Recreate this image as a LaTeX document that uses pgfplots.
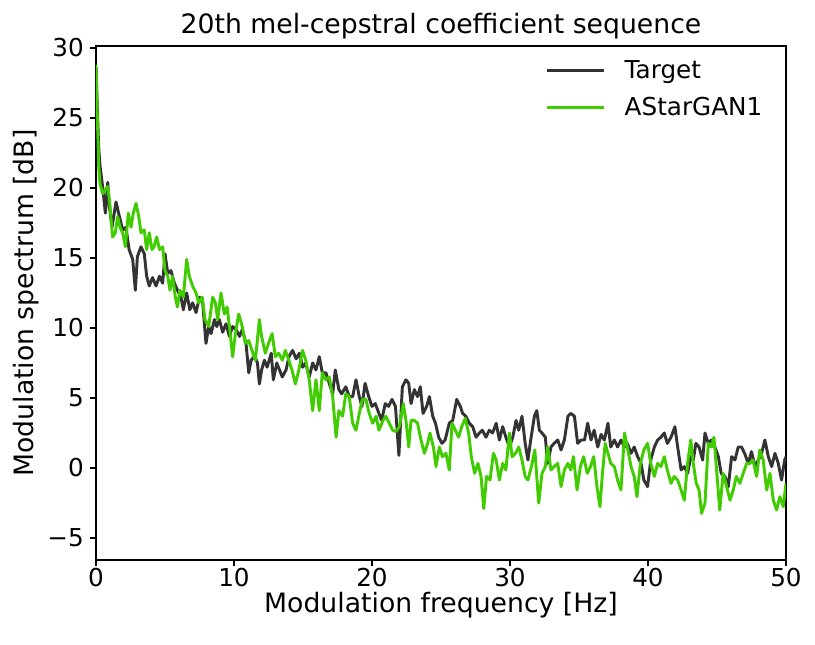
\documentclass[border=0pt]{standalone}
\usepackage{pgfplots}
\pgfplotsset{compat=1.18}
\usepackage{pgfplotstable}
\usepackage{fontspec}
\setmainfont{DejaVu Sans}
\definecolor{tgt}{RGB}{51,51,51}
\definecolor{gan}{RGB}{64,204,0}

\pgfplotstableread{
x y
0 28.6
0.1 25.5
0.2 22.8
0.3 21.5
0.48 20.1
0.68 18.2
0.85 20.4
0.97 18.7
1.16 17.2
1.45 19.0
1.7 17.95
1.93 17.0
2.17 17.2
2.4 15.6
2.66 14.9
2.85 12.7
3.0 15.1
3.26 15.8
3.5 15.3
3.67 13.7
3.86 13.0
4.1 13.6
4.35 13.0
4.6 13.7
4.83 13.2
5.0 15.3
5.2 13.9
5.43 14.1
5.68 13.2
5.9 12.7
6.16 12.2
6.33 11.3
6.57 12.5
6.8 11.3
7.0 11.8
7.25 11.1
7.5 12.2
7.73 11.8
7.97 8.9
8.17 10.1
8.34 9.6
8.58 10.6
8.75 10.1
8.94 10.6
9.18 9.7
9.42 10.3
9.67 9.4
9.9 10.1
10.15 9.9
10.4 9.4
10.6 9.9
10.87 8.9
11.07 6.8
11.24 7.7
11.5 8.0
11.7 7.5
11.84 6.0
12.0 7.0
12.2 7.7
12.4 7.2
12.7 8.2
12.85 6.3
13.1 7.5
13.3 7.0
13.5 6.5
13.77 7.0
14.0 8.0
14.25 8.4
14.5 7.8
14.74 8.2
14.97 7.2
15.2 7.5
15.45 6.5
15.7 7.5
15.94 7.0
16.18 7.95
16.4 6.8
16.66 6.8
16.9 6.05
17.15 5.3
17.34 7.0
17.6 5.6
17.8 5.3
18.1 5.8
18.35 5.1
18.6 5.1
18.84 6.3
19.08 5.1
19.27 4.4
19.5 6.05
19.76 5.1
20.0 4.4
20.24 4.6
20.5 3.9
20.7 3.4
20.96 4.6
21.2 4.4
21.45 4.9
21.7 4.4
21.95 0.9
22.2 5.8
22.46 6.3
22.66 6.05
22.83 4.6
23.07 5.6
23.3 5.1
23.5 5.8
23.7 3.9
23.96 4.4
24.16 5.1
24.4 3.7
24.6 3.2
24.83 2.2
25.07 1.76
25.3 2.0
25.6 3.2
25.85 3.4
26.14 4.9
26.4 4.4
26.57 3.9
26.8 3.7
27.05 3.2
27.3 2.95
27.54 2.2
27.78 2.5
28.0 2.7
28.26 2.2
28.5 2.7
28.74 2.5
29.0 3.2
29.23 2.0
29.47 2.95
29.7 2.2
29.96 1.5
30.2 2.2
30.44 3.4
30.63 2.7
30.87 3.7
31.1 1.76
31.3 0.57
31.5 2.0
31.77 3.7
31.94 4.1
32.13 2.7
32.32 2.5
32.56 2.2
32.73 0.33
32.97 1.5
33.2 1.76
33.46 2.0
33.7 1.29
33.94 2.0
34.2 3.7
34.4 3.9
34.67 3.7
34.9 1.76
35.15 2.0
35.4 2.0
35.63 3.2
35.87 2.0
36.1 2.7
36.36 1.5
36.6 2.4
36.84 2.0
37.1 3.2
37.3 1.5
37.56 2.0
37.8 1.5
38.04 2.0
38.3 1.5
38.5 1.76
38.77 1.05
39.0 1.5
39.25 0.81
39.5 0.33
39.7 -0.86
39.97 -1.33
40.2 0.57
40.46 1.5
40.7 2.0
40.94 2.2
41.18 2.5
41.4 1.76
41.67 2.2
41.95 2.95
42.15 1.5
42.4 -0.14
42.63 0.1
42.87 -0.38
43.1 0.81
43.28 0.57
43.47 1.76
43.7 1.5
43.96 0.57
44.13 2.5
44.37 1.76
44.6 2.0
44.85 1.5
45.1 0.81
45.3 -0.38
45.58 -0.6
45.82 -1.33
46.06 0.81
46.3 0.57
46.54 1.5
46.78 1.5
47.0 1.05
47.27 0.33
47.5 1.17
47.75 0.1
48.0 0.57
48.23 1.05
48.47 2.0
48.72 0.81
48.96 0.1
49.2 1.05
49.44 0.33
49.68 -0.86
49.9 0.57
50 0.8
}\target

\pgfplotstableread{
x y
0 28.8
0.1 25.0
0.2 21.5
0.29 20.3
0.48 19.6
0.68 19.9
0.85 20.1
1.0 18.9
1.2 16.5
1.4 16.8
1.57 17.95
1.74 17.2
1.93 16.8
2.13 15.8
2.34 18.2
2.54 17.2
2.7 18.2
2.9 18.9
3.1 17.95
3.26 16.8
3.5 17.0
3.67 15.6
3.86 16.8
4.06 15.6
4.2 15.8
4.4 16.5
4.6 15.6
4.83 15.8
5.0 14.1
5.2 13.7
5.36 12.7
5.55 13.7
5.75 12.2
5.9 11.5
6.08 12.7
6.33 12.2
6.57 14.9
6.76 13.7
7.0 13.0
7.25 12.5
7.44 11.8
7.7 12.2
7.9 10.6
8.17 10.1
8.45 12.2
8.65 11.8
8.82 10.6
9.06 12.5
9.3 11.0
9.5 11.5
9.67 10.1
9.9 7.95
10.1 9.6
10.34 11.0
10.6 10.1
10.82 8.9
11.07 9.1
11.3 8.4
11.55 7.7
11.84 10.6
12.0 9.4
12.27 8.2
12.5 8.9
12.76 9.6
13.0 7.95
13.24 8.2
13.5 7.7
13.72 8.4
13.97 7.7
14.2 7.0
14.45 6.0
14.7 7.0
14.97 8.4
15.2 7.7
15.45 6.3
15.7 4.1
15.94 6.3
16.18 4.1
16.4 6.8
16.66 6.3
16.9 6.5
17.15 5.1
17.4 2.2
17.6 4.1
17.87 3.7
18.1 5.3
18.35 5.1
18.6 3.2
18.84 2.7
19.08 3.9
19.3 4.9
19.56 4.9
19.8 3.9
20.05 3.2
20.3 3.7
20.5 2.7
20.8 3.4
21.0 3.7
21.25 3.2
21.5 2.7
21.74 2.6
21.98 2.95
22.27 4.6
22.46 3.4
22.66 1.5
22.83 3.4
23.07 3.4
23.3 3.2
23.55 2.0
23.8 1.05
24.03 1.76
24.2 2.5
24.45 1.5
24.64 0.1
24.88 1.5
25.1 0.81
25.36 1.05
25.6 -0.14
25.8 3.2
26.04 2.7
26.28 2.2
26.5 2.95
26.76 3.55
27.0 2.5
27.2 0.8
27.44 -0.38
27.68 0.33
27.9 -0.6
28.1 -2.9
28.3 -0.6
28.55 -0.86
28.8 1.05
29.0 0.57
29.23 -0.86
29.47 0.33
29.7 -0.14
29.96 2.5
30.15 0.81
30.4 1.05
30.63 1.5
30.87 0.57
31.1 -0.6
31.3 -0.86
31.55 0.1
31.8 1.29
32.08 -2.5
32.32 -0.38
32.56 0.1
32.73 1.5
32.97 -0.14
33.2 0.1
33.46 0.33
33.7 -1.33
33.94 -0.14
34.2 0.33
34.4 -0.14
34.6 0.81
34.86 -1.57
35.1 0.1
35.34 0.81
35.6 -0.38
35.83 0.1
36.07 0.81
36.3 -1.33
36.52 -2.76
36.7 -0.38
36.9 1.76
37.1 1.05
37.3 0.33
37.56 0.1
37.8 -0.86
38.04 -1.57
38.3 2.5
38.5 1.5
38.77 0.1
39.0 -0.6
39.2 -2.05
39.45 0.33
39.7 1.29
39.97 1.76
40.2 0.33
40.46 -0.6
40.7 0.33
40.94 0.1
41.18 0.81
41.4 -0.14
41.67 -1.1
41.9 -0.6
42.15 -0.86
42.4 -1.57
42.63 -2.3
42.87 0.33
43.1 2.0
43.28 0.33
43.5 -1.1
43.7 -1.57
43.88 -3.24
44.13 -2.5
44.37 1.76
44.6 1.5
44.78 2.2
44.97 -0.14
45.2 -3.0
45.45 -0.38
45.7 -1.33
45.94 -2.3
46.18 -1.57
46.4 -0.6
46.66 -1.1
46.9 -0.38
47.15 0.33
47.4 0.33
47.6 0.57
47.87 -0.6
48.1 1.29
48.35 0.57
48.6 -1.57
48.84 -0.38
49.08 -2.3
49.32 -3.0
49.56 -2.05
49.8 -2.76
50 -1.1
}\gan

\begin{document}
\begin{tikzpicture}
\begin{axis}[
  at={(0,0)}, anchor=south west,
  scale only axis, width=517.5pt, height=385.5pt,
  xmin=0, xmax=50, ymin=-6.57, ymax=30.14,
  xtick={0,10,20,30,40,50},
  xticklabels={0,10,20,30,40,50},
  ytick={-5,0,5,10,15,20,25,30},
  yticklabels={−5,0,5,10,15,20,25,30},
  tick pos=left, tick align=outside,
  major tick length=4.5pt,
  every tick/.style={black, line width=1pt},
  axis line style={line width=1pt},
  ticklabel style={font=\fontsize{18.5}{22}\selectfont},
  xticklabel style={anchor=base, yshift=-15pt, inner sep=0pt},
  yticklabel style={anchor=east, inner sep=0pt, xshift=-4.5pt},
  title={20th mel-cepstral coefficient sequence},
  title style={at={(axis description cs:0.5,1)}, anchor=base, yshift=3.6pt, font=\fontsize{20}{24}\selectfont},
  xlabel={Modulation frequency [Hz]},
  xlabel style={at={(axis description cs:0.5,0)}, anchor=base, yshift=-39.5pt, font=\fontsize{20}{24}\selectfont},
  ylabel={Modulation spectrum [dB]},
  ylabel style={at={(axis description cs:-0.0899,0.5)}, anchor=base, font=\fontsize{20}{24}\selectfont},
  legend cell align=left,
  legend image code/.code={\draw[line width=2.3pt, #1, line width=2.3pt] (0pt,0pt) -- (43pt,0pt);},
  legend style={draw=none, fill=none, inner sep=0pt, outer sep=0pt,
    at={(axis description cs:1,1)}, anchor=north east, xshift=-15.75pt, yshift=-8.75pt,
    font=\fontsize{18.5}{22}\selectfont, row sep=8.5pt,
    /tikz/every odd column/.append style={column sep=12.5pt}},
]
\addplot[tgt, line width=2.2pt, line join=round] table[x=x,y=y]{\target};
\addlegendentry{Target}
\addplot[gan, line width=2.2pt, line join=round] table[x=x,y=y]{\gan};
\addlegendentry{AStarGAN1}
\end{axis}
\path[use as bounding box] (-72pt,-63pt) rectangle (539.25pt,420pt);
\end{tikzpicture}
\end{document}
